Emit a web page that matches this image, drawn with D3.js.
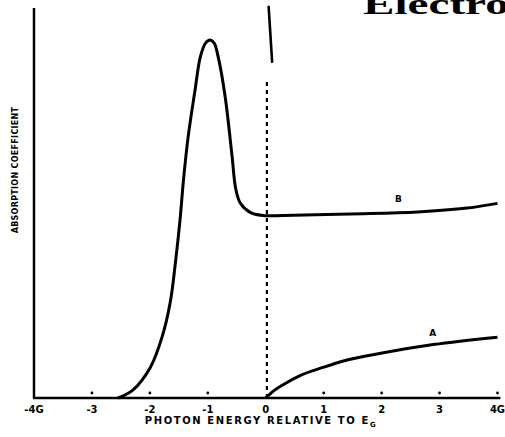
<!DOCTYPE html>
<html>
<head>
<meta charset="utf-8">
<script src="https://cdn.jsdelivr.net/npm/d3@7"></script>
<style>
  body { margin: 0; background: #fff; }
  svg { display: block; }
</style>
</head>
<body>
<script>
// photon energy (units of G, relative to E_G) vs absorption (arbitrary, 0-100)
var curveBx = [-2.55, -2.29, -1.99, -1.79, -1.65, -1.56, -1.48, -1.42, -1.34, -1.22, -1.13, -1.04, -0.96, -0.89, -0.82, -0.70, -0.58, -0.52, -0.44, -0.27, -0.05, 0.30, 1.46, 2.62, 3.48, 4.0];
var curveBy = [0, 2.1, 7.9, 15.6, 24.4, 34.6, 45.6, 55.9, 66.9, 79.0, 87.4, 91.0, 91.8, 91.0, 87.4, 77.2, 61.8, 53.8, 50.0, 47.6, 46.8, 46.8, 47.2, 47.7, 48.7, 49.9];
var curveAx = [0, 0.1, 0.3, 0.6, 1.0, 1.34, 2.03, 2.89, 4.0];
var curveAy = [0, 1.4, 3.4, 5.8, 7.9, 9.5, 11.6, 13.7, 15.6];
var tickValues = [-4, -3, -2, -1, 0, 1, 2, 3, 4];
var tickLabels = ["-4G", "-3", "-2", "-1", "0", "1", "2", "3", "4G"];

var width = 505, height = 437;
var svg = d3.select("body").append("svg")
    .attr("width", width)
    .attr("height", height);

var x = d3.scaleLinear().domain([-4, 4]).range([34, 497.5]);
var y = d3.scaleLinear().domain([0, 100]).range([398, 8]);

var font = "'DejaVu Sans', sans-serif";

// title fragment from the page, cut by the frame
svg.append("text")
    .attr("x", 363).attr("y", 14)
    .attr("font-family", "'Liberation Serif', 'DejaVu Serif', serif")
    .attr("font-weight", "bold")
    .attr("font-size", 30)
    .attr("textLength", 172)
    .attr("lengthAdjust", "spacingAndGlyphs")
    .text("Electron");

// dashed line at E_G
svg.append("line")
    .attr("x1", x(0.02)).attr("x2", x(0.02))
    .attr("y1", y(0)).attr("y2", y(81))
    .attr("stroke", "#000").attr("stroke-width", 2.2)
    .attr("stroke-dasharray", "4,4");
svg.append("line")
    .attr("x1", x(0.05)).attr("x2", x(0.11))
    .attr("y1", y(100.3)).attr("y2", y(86.2))
    .attr("stroke", "#000").attr("stroke-width", 2.6)
    .attr("stroke-linecap", "round");

// axes
svg.append("line")
    .attr("x1", x(-4)).attr("x2", x(-4))
    .attr("y1", y(0)).attr("y2", y(100))
    .attr("stroke", "#000").attr("stroke-width", 2.5);
svg.append("line")
    .attr("x1", x(-4) - 1).attr("x2", x(4.05))
    .attr("y1", y(0)).attr("y2", y(0))
    .attr("stroke", "#000").attr("stroke-width", 2.5);

// tick dots
svg.selectAll(".tickdot")
    .data(tickValues.filter(function(d) { return d > -4 && d !== 0; }))
    .enter().append("circle")
    .attr("class", "tickdot")
    .attr("cx", function(d) { return x(d); })
    .attr("cy", y(0) - 5)
    .attr("r", 1.4)
    .attr("fill", "#000");

// tick labels
svg.selectAll(".ticklabel")
    .data(tickValues)
    .enter().append("text")
    .attr("class", "ticklabel")
    .attr("x", function(d) { return x(d); })
    .attr("y", 413)
    .attr("text-anchor", "middle")
    .attr("font-family", font)
    .attr("font-weight", "bold")
    .attr("font-size", 10)
    .text(function(d, i) { return tickLabels[i]; });

// axis titles
var xt = svg.append("text")
    .attr("x", 261).attr("y", 424)
    .attr("text-anchor", "middle")
    .attr("font-family", font)
    .attr("font-weight", "bold")
    .attr("font-size", 10)
    .attr("letter-spacing", 1.6)
    .text("PHOTON  ENERGY  RELATIVE  TO  E");
xt.append("tspan")
    .attr("font-size", 7)
    .attr("dy", 3)
    .text("G");

svg.append("text")
    .attr("transform", "translate(18,170) rotate(-90)")
    .attr("text-anchor", "middle")
    .attr("font-family", font)
    .attr("font-weight", "bold")
    .attr("font-size", 8)
    .attr("letter-spacing", 0.3)
    .text("ABSORPTION  COEFFICIENT");

// curves
var lineB = d3.line()
    .x(function(d) { return x(d[0]); })
    .y(function(d) { return y(d[1]); })
    .curve(d3.curveCatmullRom.alpha(0.5));
var lineA = d3.line()
    .x(function(d) { return x(d[0]); })
    .y(function(d) { return y(d[1]); })
    .curve(d3.curveMonotoneX);

svg.append("path")
    .datum(d3.zip(curveBx, curveBy))
    .attr("d", lineB)
    .attr("fill", "none")
    .attr("stroke", "#000")
    .attr("stroke-width", 3);

svg.append("path")
    .datum(d3.zip(curveAx, curveAy))
    .attr("d", lineA)
    .attr("fill", "none")
    .attr("stroke", "#000")
    .attr("stroke-width", 3);

// curve labels
svg.append("text")
    .attr("x", x(2.29)).attr("y", y(50.3))
    .attr("text-anchor", "middle")
    .attr("font-family", font).attr("font-weight", "bold").attr("font-size", 9)
    .text("B");
svg.append("text")
    .attr("x", x(2.88)).attr("y", y(15.9))
    .attr("text-anchor", "middle")
    .attr("font-family", font).attr("font-weight", "bold").attr("font-size", 9)
    .text("A");
</script>
</body>
</html>
